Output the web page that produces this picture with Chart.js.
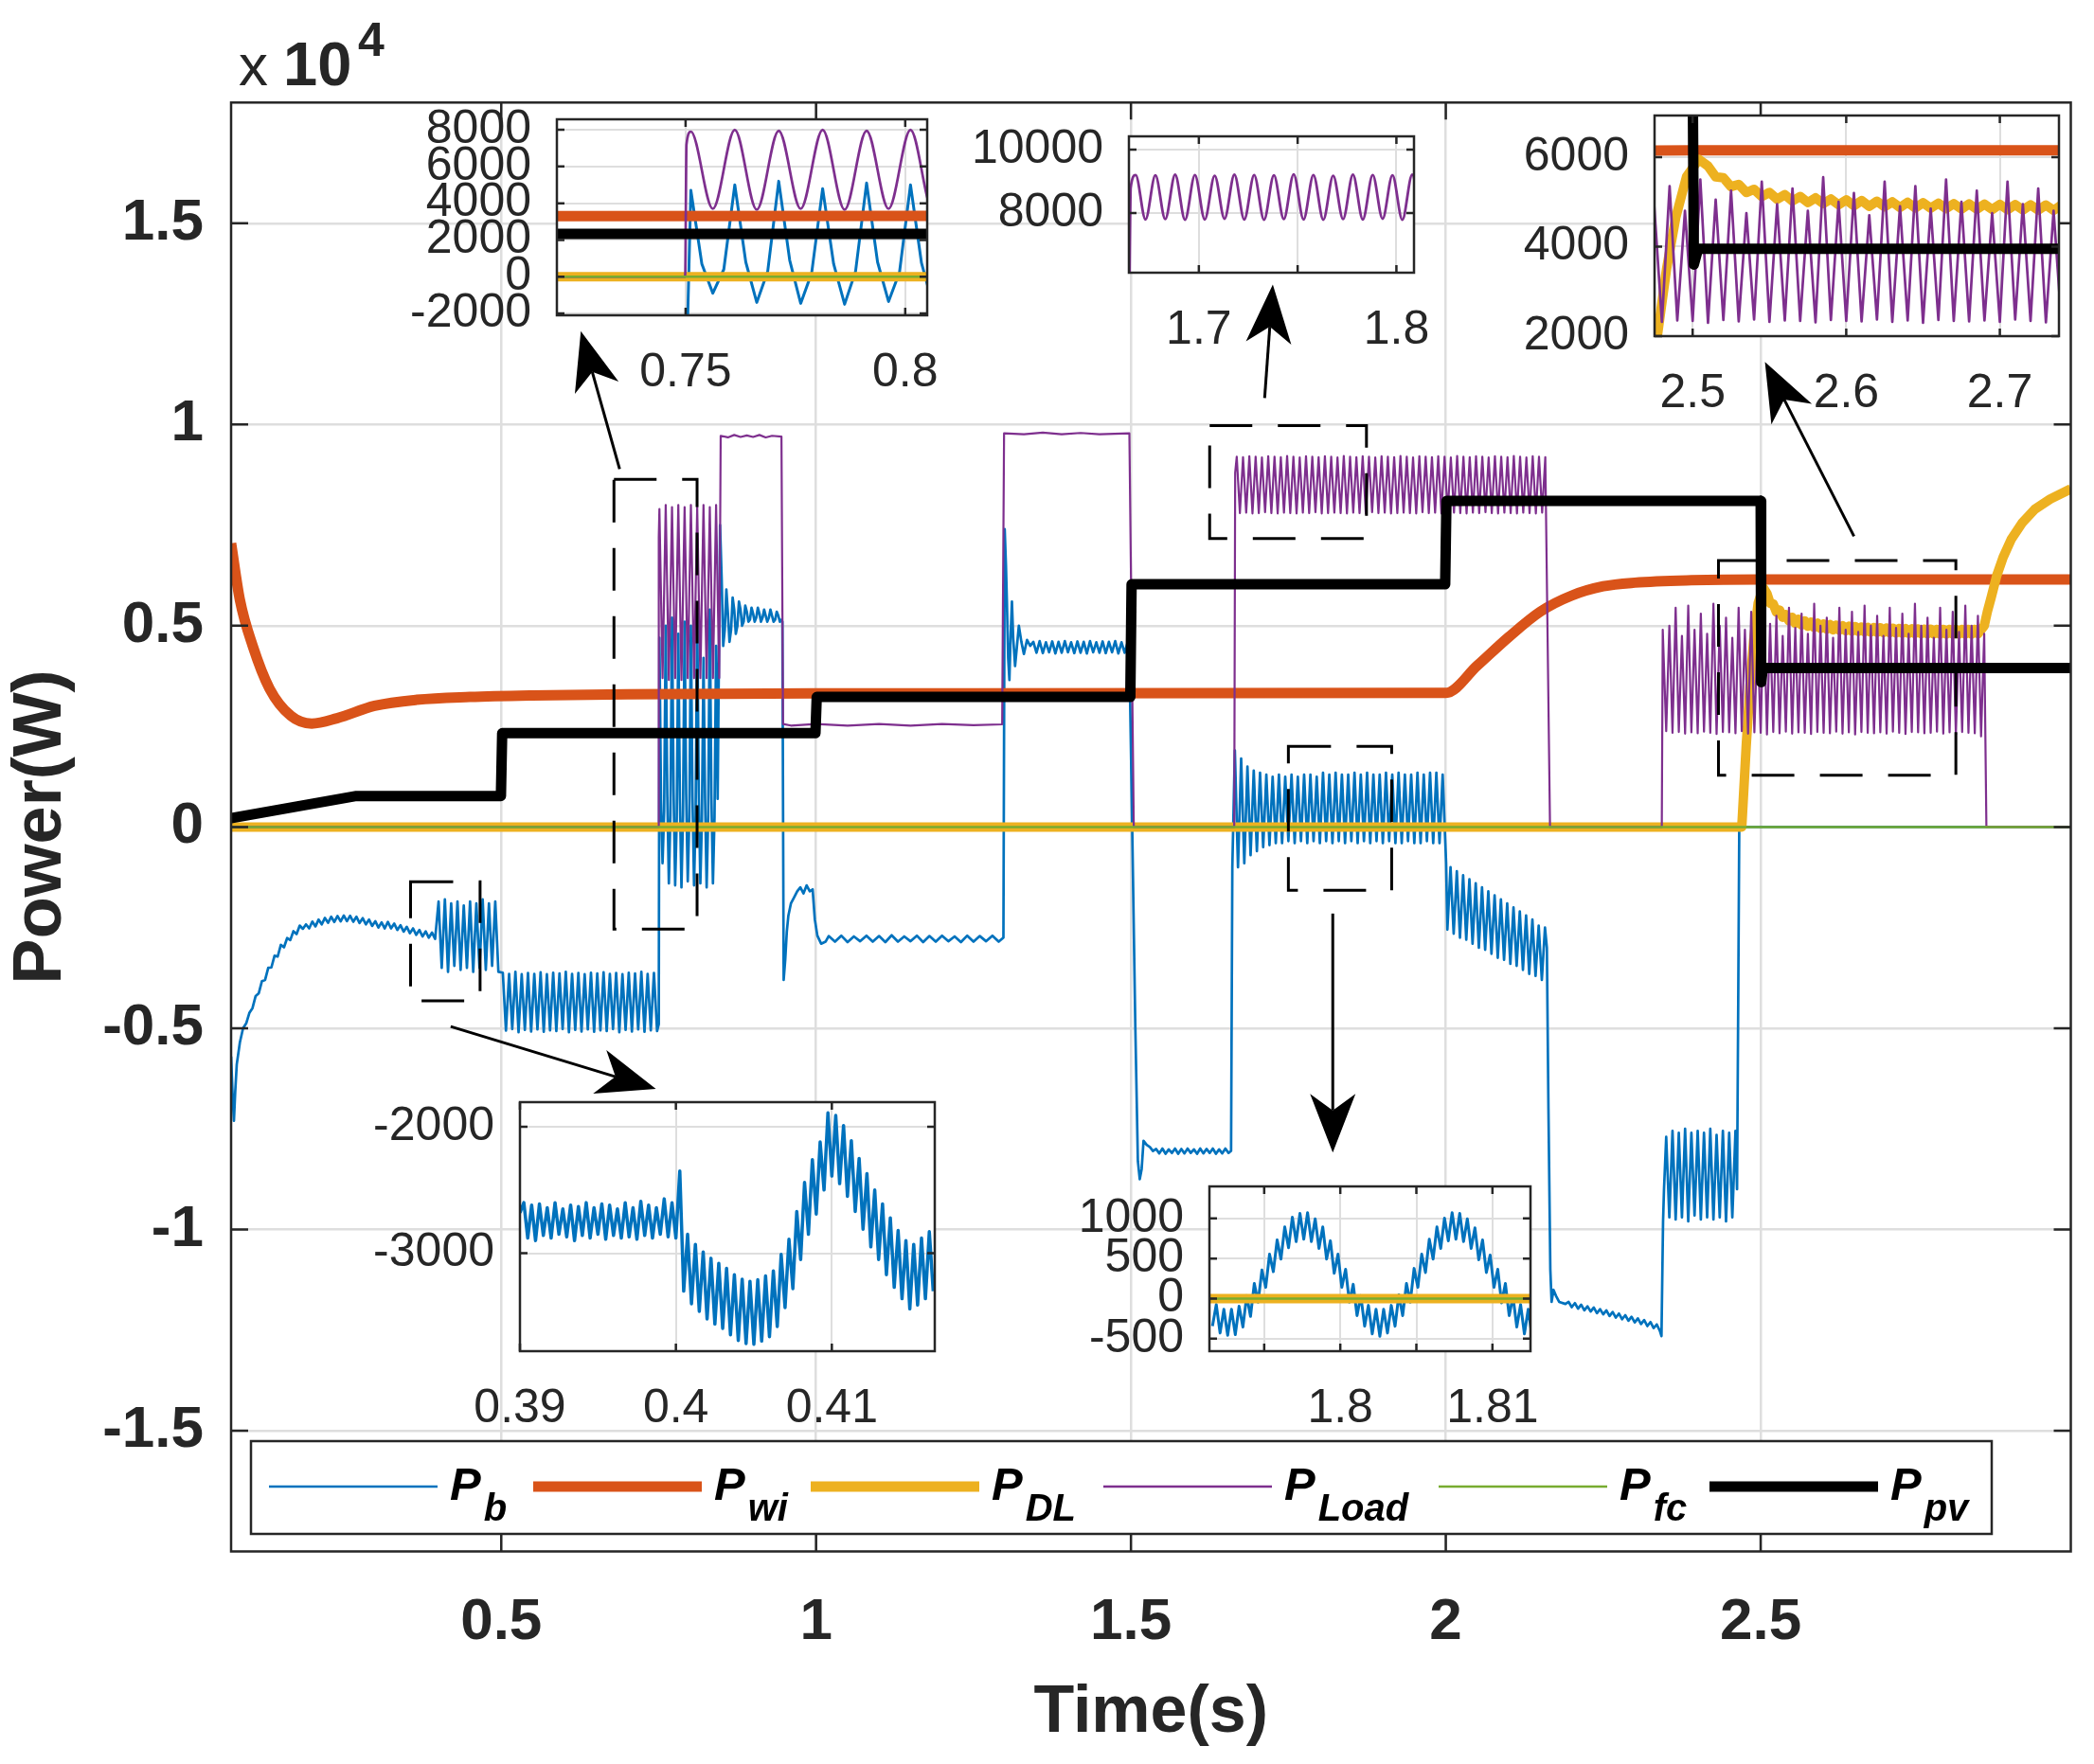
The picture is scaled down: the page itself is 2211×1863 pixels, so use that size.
<!DOCTYPE html>
<html>
<head>
<meta charset="utf-8">
<title>Power(W) vs Time(s)</title>
<script src="https://cdn.jsdelivr.net/npm/chart.js@4.4.1/dist/chart.umd.min.js"></script>
<style>
  body { margin: 0; background: #fff; }
  #wrap { position: relative; width: 2211px; height: 1863px; overflow: hidden; }
  canvas { position: absolute; }
</style>
</head>
<body>
<div id="wrap">
  <canvas id="main" width="2211" height="1863" style="left:0;top:0"></canvas>
  <canvas id="in1"></canvas>
  <canvas id="in2"></canvas>
  <canvas id="in3"></canvas>
  <canvas id="in4"></canvas>
  <canvas id="in5"></canvas>
</div>
<script>
const FONT = '"Liberation Sans", Arial, Helvetica, sans-serif';
const AXIS = '#262626';
const GRID = '#dedede';
const COLORS = { b: '#0072BD', wi: '#D95319', dl: '#EDB120', load: '#7E2F8E', fc: '#77AC30', pv: '#000000' };

// ---------- tick values ----------
const mainXTicks = [0.5, 1, 1.5, 2, 2.5];
const mainYTicks = [-15000, -10000, -5000, 0, 5000, 10000, 15000];
const in1XTicks = [0.75, 0.8], in1YTicks = [-2000, 0, 2000, 4000, 6000, 8000];
const in2XTicks = [1.7, 1.75, 1.8], in2YTicks = [8000, 10000];
const in3XTicks = [2.5, 2.6, 2.7], in3YTicks = [2000, 4000, 6000];
const in4XTicks = [0.39, 0.4, 0.41], in4YTicks = [-3000, -2000];
const in5XTicks = [1.795, 1.8, 1.805, 1.81], in5YTicks = [-500, 0, 500, 1000];

// ---------- data (time in s, power in W) ----------
// pairs are [t, P]; the plain lists are samples taken at a fixed step (see seg() calls below)

// P_b, battery
const pbStart = [[0.071, -5700], [0.0735, -6700], [0.0755, -7300], [0.0775, -6600], [0.080, -5900], [0.085, -5350]];
const pbRamp = [-5000, -4880, -4620, -4500, -4200, -4130, -3830, -3800, -3500, -3490,
  -3200, -3220, -2930, -2990, -2760, -2810, -2590, -2660, -2450, -2530,
  -2420, -2520, -2350, -2470, -2300, -2420, -2260, -2380, -2230, -2360,
  -2210, -2345, -2200, -2340, -2205, -2355, -2230, -2385, -2265, -2420,
  -2300, -2460, -2340, -2500, -2370, -2520, -2360, -2520, -2400, -2560,
  -2440, -2600, -2480, -2640, -2520, -2680, -2560, -2720, -2595, -2750,
  -2625, -2780];
const pbOsc1 = [-1850, -3500, -1800, -3600, -1900, -3450, -1850, -3550, -1950, -3500,
  -1850, -3600, -1900, -3500, -1800, -3550, -1900, -3450, -1850, -3600];
const pbOsc2 = [-3620, -5060, -3650, -5020, -3600, -5100, -3660, -5040, -3630, -5080,
  -3650, -5030, -3610, -5090, -3660, -5050, -3620, -5070, -3640, -5020,
  -3600, -5100, -3650, -5040, -3630, -5080, -3660, -5030, -3620, -5090,
  -3640, -5050, -3610, -5070, -3650, -5020, -3630, -5100, -3660, -5040,
  -3620, -5080, -3640, -5030, -3600, -5090, -3650, -5050, -3630, -5070];
const pbJump1 = [[0.7502, -4900]];
const pbOsc3 = [4700, 700, -900, 400, 5000, 800, -1400, 300, 5200, 900, -1450, 200,
  4800, 700, -1500, 300, 5100, 800, -1350, 250, 5000, 750, -1450, 300,
  5300, 850, -1400, 200, 4200, 700, -1500, 300, 5400, 800, -1400, 250, 4500, 700];
const pbSettle = [7500, 6200, 4500, 4900, 5900, 5300, 4600, 4900, 5700, 5400,
  4800, 5000, 5600, 5400, 5000, 5100, 5500, 5350, 5100, 5150,
  5450, 5300, 5100, 5200, 5450, 5300, 5100, 5200, 5400, 5250,
  5100, 5200, 5400, 5250, 5100, 5150, 5350, 5250, 5100, 5150];
const pbDip = [[0.9465, 5100], [0.9485, -3800], [0.951, -3300], [0.9535, -2600], [0.956, -2200], [0.96, -1900],
  [0.965, -1750], [0.97, -1600], [0.975, -1500], [0.98, -1650], [0.985, -1450], [0.99, -1600], [0.9945, -1550],
  [0.998, -2300], [1.002, -2700], [1.008, -2900], [1.015, -2850]];
const pbFlat1 = [-2710, -2850, -2700, -2860, -2720, -2840, -2700, -2850, -2710, -2860,
  -2690, -2850, -2720, -2840, -2700, -2860, -2710, -2850, -2700, -2840,
  -2720, -2860, -2700, -2850, -2710, -2840, -2700, -2850];
const pbStep2 = [[1.2975, -2750], [1.2995, 7400], [1.3015, 6500], [1.303, 5600], [1.305, 4200], [1.307, 3650],
  [1.309, 4800], [1.311, 5600], [1.313, 4700], [1.316, 4000], [1.319, 4500], [1.322, 5000], [1.326, 4600],
  [1.33, 4300], [1.335, 4650], [1.34, 4500]];
const pbFlat2 = [4600, 4330, 4620, 4320, 4590, 4340, 4610, 4310, 4600, 4330,
  4620, 4340, 4590, 4320, 4610, 4330, 4600, 4310, 4620, 4340,
  4590, 4330, 4610, 4320, 4600, 4340, 4620, 4310, 4590, 4330, 4600];
const pbDrop2 = [[1.4975, 4300], [1.502, 0], [1.507, -5000], [1.511, -8300], [1.514, -8750], [1.517, -8500],
  [1.52, -7800], [1.525, -7900], [1.53, -7950], [1.535, -8050]];
const pbFlat3 = [-8000, -8110, -7990, -8120, -8010, -8100, -7990, -8120, -8000, -8110,
  -7990, -8100, -8010, -8120, -7990, -8110, -8000, -8100, -7990, -8120, -8010, -8110, -7990, -8100];
const pbJump3 = [[1.659, -8050], [1.661, -1000]];
const pbOsc4 = [1900, -1000, 1700, -900, 1500, -700, 1400, -600, 1350, -500,
  1300, -450, 1250, -400, 1300, -400, 1250, -350, 1300, -400,
  1250, -350, 1300, -400, 1300, -350, 1250, -400, 1350, -350,
  1300, -400, 1350, -350, 1300, -400, 1300, -350, 1350, -400,
  1300, -350, 1350, -400, 1300, -350, 1300, -400, 1350, -350,
  1300, -400, 1350, -400, 1300, -350, 1300, -400, 1350, -400,
  1300, -350, 1350, -400, 1350, -400, 1300];
const pbJump4 = [[2.0005, -900]];
const pbOsc5 = [-2550, -1000, -2650, -1100, -2750, -1200, -2800, -1300, -2900, -1400,
  -3000, -1500, -3050, -1600, -3150, -1700, -3250, -1800, -3300, -1900,
  -3400, -2000, -3450, -2100, -3550, -2200, -3650, -2300, -3700, -2450, -3800, -2500];
const pbDrop3 = [[2.1605, -3000], [2.163, -7000], [2.166, -11000], [2.168, -11800], [2.171, -11500],
  [2.175, -11650], [2.18, -11800], [2.19, -11850]];
const pbFlat4 = [-11800, -11930, -11830, -11970, -11870, -12010, -11910, -12040, -11940, -12080,
  -11980, -12110, -12010, -12150, -12050, -12190, -12090, -12230, -12130, -12270,
  -12170, -12310, -12210, -12350, -12250, -12400, -12300, -12450, -12360, -12520];
const pbJump5 = [[2.3425, -12650], [2.345, -9800], [2.3465, -9000]];
const pbOsc6 = [-7700, -9700, -7550, -9750, -7600, -9700, -7500, -9800, -7600, -9650,
  -7550, -9750, -7600, -9700, -7500, -9750, -7650, -9700, -7550, -9800, -7600, -9700, -7550];
const pbEnd = [[2.4625, -9000], [2.4645, -4000], [2.466, 0], [2.9925, 0]];

// P_wi, wind
const wiCurve = [[0.071, 7050], [0.085, 5640], [0.1055, 4490], [0.132, 3440], [0.166, 2760], [0.199, 2570],
  [0.239, 2700], [0.299, 3010], [0.366, 3160], [0.45, 3230], [0.55, 3270], [0.7, 3300], [1.0, 3320],
  [2.0, 3330], [2.05, 4010], [2.1, 4720], [2.15, 5350], [2.2, 5750], [2.25, 5980], [2.3, 6070],
  [2.39, 6130], [2.5, 6150], [2.9925, 6150]];

// P_DL, dump load
const dlRise = [[0.071, 0], [2.470, 0], [2.477, 2000], [2.483, 3500], [2.489, 4650], [2.496, 5560], [2.504, 5950]];
const dlRipple = [5800, 5560, 5540, 5340, 5390, 5210, 5280, 5120, 5210, 5060,
  5160, 5020, 5120, 4985, 5090, 4960, 5065, 4935, 5045, 4915,
  5030, 4900, 5015, 4890, 5000, 4875, 4990, 4865, 4980, 4860,
  4970, 4850, 4960, 4840, 4955, 4835, 4950, 4830, 4945, 4825,
  4940, 4820, 4935, 4815, 4930, 4810, 4925, 4805, 4920, 4800,
  4915, 4800, 4915, 4795, 4910, 4795, 4910, 4795, 4910, 4795,
  4910, 4795, 4910, 4795, 4910, 4795, 4910, 4800, 4900];
const dlTail = [[2.855, 5000], [2.86, 5350], [2.866, 5700], [2.875, 6250], [2.885, 6700], [2.898, 7150],
  [2.915, 7550], [2.935, 7890], [2.96, 8150], [2.9925, 8400]];

// P_Load
const loadStart = [[0.071, 0], [0.7499, 0], [0.7502, 7200]];
const loadOscA = [7900, 3700, 8000, 3650, 7950, 3700, 8000, 3650, 7950, 3700,
  8000, 3700, 7950, 3700, 8000, 3700, 7950, 3700, 8000, 3700];
const loadMid = [[0.8485, 9720], [0.86, 9680], [0.87, 9740], [0.88, 9690], [0.89, 9730], [0.90, 9690],
  [0.91, 9740], [0.92, 9680], [0.93, 9720], [0.945, 9700], [0.9475, 2560], [0.96, 2520], [1.0, 2560],
  [1.05, 2520], [1.1, 2560], [1.15, 2520], [1.2, 2560], [1.25, 2530], [1.2955, 2550], [1.2985, 9780],
  [1.33, 9760], [1.36, 9800], [1.39, 9760], [1.42, 9790], [1.45, 9760], [1.4975, 9780], [1.5045, 0],
  [1.664, 0], [1.6655, 8800]];
const loadOscB = [9200, 7800, 9190, 7810, 9210, 7790, 9200, 7800, 9180, 7820,
  9210, 7800, 9200, 7790, 9190, 7810, 9220, 7800, 9200, 7790,
  9180, 7810, 9210, 7800, 9200, 7820, 9190, 7790, 9210, 7800,
  9200, 7810, 9180, 7800, 9220, 7790, 9200, 7810, 9190, 7800,
  9210, 7790, 9200, 7820, 9180, 7800, 9210, 7810, 9200, 7790,
  9190, 7800, 9220, 7810, 9200, 7800, 9180, 7790, 9210, 7820,
  9200, 7800, 9190, 7810, 9210, 7790, 9200, 7800, 9180, 7810,
  9220, 7800, 9200, 7790, 9190, 7810, 9210, 7800, 9200, 7820,
  9180, 7800, 9210, 7790, 9200, 7810, 9190, 7800, 9220, 7790,
  9200, 7810, 9180, 7800, 9210, 7790, 9200, 7810, 9190];
const loadGap = [[2.1655, 0], [2.343, 0], [2.3445, 4900]];
const loadOscC = [2380, 5000, 2340, 5450, 2360, 4750, 2320, 5500, 2350, 4900,
  2330, 5300, 2370, 4800, 2340, 5550, 2310, 5000, 2360, 5200,
  2350, 4700, 2330, 5450, 2380, 4900, 2320, 5350, 2350, 4800,
  2340, 5500, 2300, 5050, 2360, 5250, 2330, 4750, 2370, 5450,
  2320, 4950, 2350, 5300, 2340, 4800, 2310, 5550, 2360, 5000,
  2340, 5200, 2330, 4700, 2370, 5450, 2320, 4900, 2350, 5350,
  2300, 4850, 2360, 5500, 2340, 5000, 2330, 5250, 2350, 4750,
  2320, 5450, 2370, 4950, 2340, 5300, 2310, 4800, 2360, 5550,
  2350, 5000, 2330, 5200, 2340, 4700, 2370, 5450, 2320, 4900,
  2350, 5350, 2300, 4850, 2360, 5500, 2340, 5000, 2330, 5250,
  2250, 4800];
const loadEnd = [[2.8585, 0], [2.9925, 0]];

// P_fc, fuel cell
const fcLine = [[0.071, 0], [2.9925, 0]];

// P_pv
const pvSteps = [[0.071, 220], [0.27, 770], [0.4995, 770], [0.5015, 2330], [0.999, 2330], [1.001, 3230],
  [1.499, 3230], [1.501, 6030], [1.999, 6030], [2.001, 8100], [2.5, 8100], [2.5008, 3600],
  [2.5035, 3950], [2.9925, 3950]];

// detailed P_b traces shown in the two lower zoom boxes (0.25 ms step)
const pbZoom04 = [-2680, -2600, -2880, -2620, -2900, -2610, -2860, -2640, -2880, -2600,
  -2850, -2650, -2870, -2620, -2900, -2630, -2860, -2600, -2880, -2640,
  -2850, -2610, -2890, -2620, -2860, -2650, -2880, -2600, -2870, -2640,
  -2890, -2590, -2860, -2620, -2880, -2640, -2850, -2570, -2870, -2600,
  -2880, -2350,
  -3300, -2850, -3400, -2930, -3460, -2990, -3520, -3040, -3560, -3080,
  -3595, -3120, -3645, -3170, -3690, -3205, -3715, -3222, -3720, -3210,
  -3695, -3180, -3660, -3140, -3580, -3010, -3430, -2890, -3280, -2670,
  -3050, -2440, -2850, -2260, -2690, -2120, -2500, -1890, -2390, -1910,
  -2450, -1990, -2550, -2110, -2670, -2250, -2810, -2370, -2950, -2500,
  -3050, -2610, -3170, -2720, -3270, -2820, -3360, -2900, -3440, -2930,
  -3410, -2880, -3360, -2830, -3300];
const pbZoom18 = [-345, -75, -431, -133, -460, -133, -451, -95, -355, 36,
  -223, 188, -45, 356, 140, 554, 335, 732, 493, 894,
  635, 1015, 711, 1063, 740, 1073, 711, 995, 625, 894,
  493, 722, 315, 554, 140, 366, -45, 178, -213, 36,
  -345, -85, -441, -133, -470, -133, -431, -85, -345, 46,
  -213, 188, -45, 376, 140, 554, 325, 742, 493, 894,
  625, 1005, 721, 1073, 740, 1063, 711, 995, 625, 884,
  483, 732, 325, 544, 140, 366, -55, 188, -213, 26,
  -355, -75, -441, -133, -470];

// dashed zoom frames [t1, t2, Ptop, Pbottom] and arrows [tTail, PTail, tTip, PTip]
const zoomFrames = [[0.356, 0.4664, -1360, -4320], [0.679, 0.811, 8640, -2535], [1.625, 1.874, 9975, 7165],
  [1.750, 1.914, 2005, -1570], [2.433, 2.810, 6620, 1285]];
const zoomArrows = [[0.4197, -4957, 0.7456, -6509], [0.688, 8893, 0.6264, 12318], [1.7123, 10656, 1.7253, 13478],
  [2.6482, 7223, 2.5068, 11557], [1.8205, -2151, 1.8205, -8091]];

// ---------- build series ----------
function seg(t0, dt, vals) { return vals.map((v, i) => [Math.round((t0 + i * dt) * 1e6) / 1e6, v]); }
function xy(pairs) { return pairs.map(p => ({ x: p[0], y: p[1] })); }

const pbSeries = xy([].concat(pbStart, seg(0.09, 0.005, pbRamp), seg(0.4005, 0.005, pbOsc1),
  seg(0.5025, 0.005, pbOsc2), pbJump1, seg(0.7512, 0.0025, pbOsc3), seg(0.8475, 0.0025, pbSettle),
  pbDip, seg(1.02, 0.01, pbFlat1), pbStep2, seg(1.345, 0.005, pbFlat2), pbDrop2,
  seg(1.54, 0.005, pbFlat3), pbJump3, seg(1.665, 0.005, pbOsc4), pbJump4, seg(2.0025, 0.005, pbOsc5),
  pbDrop3, seg(2.195, 0.005, pbFlat4), pbJump5, seg(2.35, 0.005, pbOsc6), pbEnd));
const wiSeries = xy(wiCurve);
const dlSeries = xy([].concat(dlRise, seg(2.51, 0.005, dlRipple), dlTail));
const loadSeries = xy([].concat(loadStart, seg(0.7512, 0.005, loadOscA), loadMid,
  seg(1.668, 0.005, loadOscB), loadGap, seg(2.35, 0.005, loadOscC), loadEnd));
const fcSeries = xy(fcLine);
const pvSeries = xy(pvSteps);
const zoom04Series = xy(seg(0.39, 0.00025, pbZoom04));
const zoom18Series = xy(seg(1.7916, 0.00025, pbZoom18));

const ORDER = { pv: 0, fc: 1, load: 2, dl: 3, wi: 4, b: 5 };
function line(key, data, width, extra) {
  return Object.assign({
    label: key, data: data.slice(), borderColor: COLORS[key], backgroundColor: COLORS[key],
    borderWidth: width, pointRadius: 0, fill: false, tension: 0, borderJoinStyle: 'round',
    clip: 0, order: ORDER[key]
  }, extra || {});
}

const fmt = v => String(Math.round(v * 1e4) / 1e4);
const fixedTicks = list => s => { s.ticks = list.map(v => ({ value: v })); };

// ---------- plugins ----------
function framePlugin(tickLen, lw, whiteBg) {
  return {
    id: 'frame',
    beforeDraw(c) {
      if (!whiteBg) return;
      const a = c.chartArea, ctx = c.ctx;
      ctx.save(); ctx.fillStyle = '#fff';
      ctx.fillRect(a.left, a.top, a.right - a.left, a.bottom - a.top);
      ctx.restore();
    },
    afterDraw(c) {
      const a = c.chartArea, ctx = c.ctx, x = c.scales.x, y = c.scales.y;
      ctx.save();
      ctx.strokeStyle = AXIS; ctx.lineWidth = lw;
      ctx.beginPath();
      x.ticks.forEach(t => {
        const p = x.getPixelForValue(t.value);
        ctx.moveTo(p, a.bottom); ctx.lineTo(p, a.bottom - tickLen);
        ctx.moveTo(p, a.top); ctx.lineTo(p, a.top + tickLen);
      });
      y.ticks.forEach(t => {
        const p = y.getPixelForValue(t.value);
        ctx.moveTo(a.left, p); ctx.lineTo(a.left + tickLen, p);
        ctx.moveTo(a.right, p); ctx.lineTo(a.right - tickLen, p);
      });
      ctx.stroke();
      ctx.strokeRect(a.left, a.top, a.right - a.left, a.bottom - a.top);
      ctx.restore();
    }
  };
}

function drawArrow(ctx, x0, y0, x1, y1) {
  const L = 62, W = 24, back = 0.72;
  const ang = Math.atan2(y1 - y0, x1 - x0), c = Math.cos(ang), s = Math.sin(ang);
  const bx = x1 - L * c, by = y1 - L * s;
  const ix = x1 - L * back * c, iy = y1 - L * back * s;
  ctx.beginPath(); ctx.moveTo(x0, y0); ctx.lineTo(ix, iy); ctx.stroke();
  ctx.beginPath();
  ctx.moveTo(x1, y1);
  ctx.lineTo(bx - W * s, by + W * c);
  ctx.lineTo(ix, iy);
  ctx.lineTo(bx + W * s, by - W * c);
  ctx.closePath(); ctx.fill();
}

const notesPlugin = {
  id: 'notes',
  afterDatasetsDraw(c) {
    const ctx = c.ctx, x = c.scales.x, y = c.scales.y;
    ctx.save();
    ctx.strokeStyle = '#000'; ctx.fillStyle = '#000'; ctx.lineWidth = 3;
    ctx.setLineDash([45, 27]);
    zoomFrames.forEach(([t1, t2, p1, p2]) => {
      const X1 = x.getPixelForValue(t1), X2 = x.getPixelForValue(t2);
      const Y1 = y.getPixelForValue(p1), Y2 = y.getPixelForValue(p2);
      ctx.strokeRect(X1, Y1, X2 - X1, Y2 - Y1);
    });
    ctx.setLineDash([]);
    zoomArrows.forEach(([t0, p0, t1, p1]) => drawArrow(ctx, x.getPixelForValue(t0), y.getPixelForValue(p0),
      x.getPixelForValue(t1), y.getPixelForValue(p1)));
    ctx.restore();
  }
};

const legendKeys = ['b', 'wi', 'dl', 'load', 'fc', 'pv'];
const legendSubs = ['b', 'wi', 'DL', 'Load', 'fc', 'pv'];
const legendWidths = [2.7, 11, 11, 2.7, 2.7, 11];
const legendX = [284, 563, 856, 1165, 1519, 1805];

const legendPlugin = {
  id: 'legendBox',
  afterDraw(c) {
    const ctx = c.ctx;
    ctx.save();
    ctx.fillStyle = '#fff'; ctx.fillRect(265, 1522, 1838, 98);
    ctx.strokeStyle = AXIS; ctx.lineWidth = 2.5; ctx.strokeRect(265, 1522, 1838, 98);
    legendKeys.forEach((k, i) => {
      const x0 = legendX[i];
      ctx.strokeStyle = COLORS[k]; ctx.lineWidth = legendWidths[i];
      ctx.beginPath(); ctx.moveTo(x0, 1570); ctx.lineTo(x0 + 178, 1570); ctx.stroke();
      ctx.fillStyle = '#000'; ctx.textBaseline = 'alphabetic'; ctx.textAlign = 'left';
      ctx.font = 'italic bold 49px ' + FONT;
      ctx.fillText('P', x0 + 191, 1584);
      const w = ctx.measureText('P').width;
      ctx.font = 'italic bold 40px ' + FONT;
      ctx.fillText(legendSubs[i], x0 + 191 + w + 3, 1606);
    });
    ctx.restore();
  }
};

const exponentPlugin = {
  id: 'exponent',
  afterDraw(c) {
    const ctx = c.ctx;
    ctx.save();
    ctx.fillStyle = AXIS; ctx.textBaseline = 'alphabetic'; ctx.textAlign = 'left';
    ctx.font = '62px ' + FONT; ctx.fillText('x', 252, 90);
    ctx.font = 'bold 65px ' + FONT; ctx.fillText('10', 299, 90);
    ctx.font = 'bold 50px ' + FONT; ctx.fillText('4', 378, 59);
    ctx.restore();
  }
};

// ---------- main chart ----------
new Chart(document.getElementById('main'), {
  type: 'line',
  data: {
    datasets: [
      line('b', pbSeries, 2.7),
      line('wi', wiSeries, 11, { cubicInterpolationMode: 'monotone' }),
      line('dl', dlSeries, 10),
      line('load', loadSeries, 2.2),
      line('fc', fcSeries, 2.5),
      line('pv', pvSeries, 11)
    ]
  },
  options: {
    responsive: false, animation: false, devicePixelRatio: 1,
    layout: { padding: { top: 108.3, right: 24.5, left: 0, bottom: 0 }, autoPadding: false },
    plugins: { legend: { display: false }, tooltip: { enabled: false } },
    events: [],
    scales: {
      x: {
        type: 'linear', min: 0.071, max: 2.9925,
        afterBuildTicks: fixedTicks(mainXTicks),
        afterFit: s => { s.height = 224.5; },
        ticks: { autoSkip: false, maxRotation: 0, padding: 38,
          color: AXIS, font: { family: FONT, size: 62, weight: 'bold' }, callback: fmt },
        grid: { color: GRID, lineWidth: 2.5, drawTicks: false },
        border: { display: false },
        title: { display: true, text: 'Time(s)', color: AXIS, padding: { top: 0, bottom: 11 },
          font: { family: FONT, size: 70, weight: 'bold' } }
      },
      y: {
        type: 'linear', min: -18000, max: 18000,
        afterBuildTicks: fixedTicks(mainYTicks),
        afterFit: s => { s.width = 244; },
        ticks: { autoSkip: false, padding: 29,
          color: AXIS, font: { family: FONT, size: 62, weight: 'bold' },
          callback: v => String(Math.round(v / 100) / 100) },
        grid: { color: GRID, lineWidth: 2.5, drawTicks: false },
        border: { display: false },
        title: { display: true, text: 'Power(W)', color: AXIS, padding: { top: 1, bottom: 0 },
          font: { family: FONT, size: 72, weight: 'bold' } }
      }
    }
  },
  plugins: [notesPlugin, framePlugin(18, 2.5, false), legendPlugin, exponentPlugin]
});

// ---------- zoomed insets ----------
function makeInset(id, box, xr, yr, xTicks, yTicks, datasets, xLabel) {
  const padT = 70, padR = 70, yW = 170, xH = 100;
  const cv = document.getElementById(id);
  cv.width = Math.round(yW + (box.R - box.L) + padR);
  cv.height = Math.round(padT + (box.B - box.T) + xH);
  cv.style.left = (box.L - yW) + 'px';
  cv.style.top = (box.T - padT) + 'px';
  const tickFont = { family: FONT, size: 50 };
  return new Chart(cv, {
    type: 'line',
    data: { datasets },
    options: {
      responsive: false, animation: false, devicePixelRatio: 1, events: [],
      layout: { padding: { top: padT, right: cv.width - yW - (box.R - box.L), left: 0, bottom: 0 }, autoPadding: false },
      plugins: { legend: { display: false }, tooltip: { enabled: false } },
      scales: {
        x: {
          type: 'linear', min: xr[0], max: xr[1],
          afterBuildTicks: fixedTicks(xTicks),
          afterFit: s => { s.height = cv.height - padT - (box.B - box.T); },
          ticks: { autoSkip: false, maxRotation: 0, padding: 31,
            color: AXIS, font: tickFont, callback: xLabel || fmt },
          grid: { color: GRID, lineWidth: 2, drawTicks: false },
          border: { display: false }
        },
        y: {
          type: 'linear', min: yr[0], max: yr[1],
          afterBuildTicks: fixedTicks(yTicks),
          afterFit: s => { s.width = yW; },
          ticks: { autoSkip: false, padding: 27,
            color: AXIS, font: tickFont, callback: fmt },
          grid: { color: GRID, lineWidth: 2, drawTicks: false },
          border: { display: false }
        }
      }
    },
    plugins: [framePlugin(8, 2.5, true)]
  });
}

const onlyTenths = v => (Math.abs(v * 10 - Math.round(v * 10)) < 1e-6 ? fmt(v) : '');
const onlyHundredths = v => (Math.abs(v * 100 - Math.round(v * 100)) < 1e-6 ? fmt(v) : '');

makeInset('in1', { L: 588, R: 979, T: 126, B: 333 }, [0.7207, 0.805], [-2100, 8570], in1XTicks, in1YTicks, [
  line('b', pbSeries, 3),
  line('wi', wiSeries, 11),
  line('dl', dlSeries, 10),
  line('load', loadSeries, 2.7, { cubicInterpolationMode: 'monotone' }),
  line('fc', fcSeries, 2.5),
  line('pv', pvSeries, 11)
]);
makeInset('in2', { L: 1192, R: 1493, T: 144, B: 288 }, [1.6646, 1.8089], [6120, 10420], in2XTicks, in2YTicks, [
  line('load', loadSeries, 2.8, { cubicInterpolationMode: 'monotone' })
], onlyTenths);
makeInset('in3', { L: 1747, R: 2174, T: 122, B: 355 }, [2.4752, 2.7385], [2000, 6930], in3XTicks, in3YTicks, [
  line('wi', wiSeries, 11),
  line('dl', dlSeries, 10),
  line('load', loadSeries, 2.7),
  line('pv', pvSeries, 11)
]);
makeInset('in4', { L: 548.5, R: 986.5, T: 1164, B: 1427 }, [0.39, 0.4166], [-3775, -1805], in4XTicks, in4YTicks, [
  line('b', zoom04Series, 3.5)
]);
makeInset('in5', { L: 1277, R: 1616, T: 1253, B: 1427 }, [1.7914, 1.8125], [-657, 1400], in5XTicks, in5YTicks, [
  line('b', zoom18Series, 3),
  line('dl', dlSeries, 10),
  line('fc', fcSeries, 2.5)
], onlyHundredths);
</script>
</body>
</html>
